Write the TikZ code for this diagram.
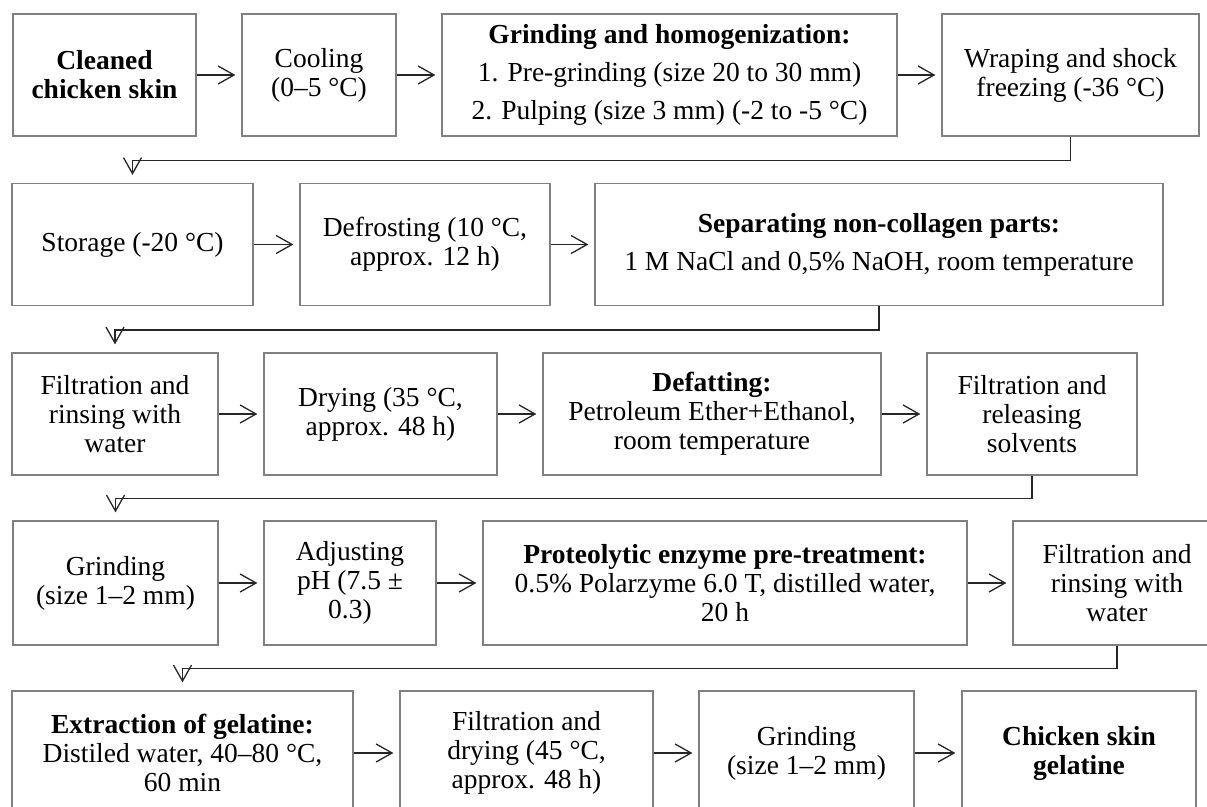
\documentclass[tikz,border=0pt]{standalone}
\usepackage{fontspec}
\setmainfont{Liberation Serif}
\usetikzlibrary{arrows.meta}

\begin{document}
\begin{tikzpicture}[x=0.5pt, y=-0.5pt,
  stage/.style={draw=black!50, line width=0.6pt, inner sep=0pt, align=center,
    font=\fontsize{13.75}{14.5}\selectfont, minimum height=61pt},
  flow/.style={draw=black!85, line width=0.65pt,
    -{Straight Barb[length=8pt, width=9pt]}, shorten >=3pt},
  back/.style={flow, shorten >=4pt}]
  \useasboundingbox (0,0) rectangle (1207,807);
  \clip (0,0) rectangle (1207,807);

  % row 1
  \node[stage, minimum width=91.5pt] (clean) at (104.5,75) {\textbf{Cleaned}\\\textbf{chicken skin}};
  \node[stage, minimum width=77pt] (cool) at (319,75) {Cooling\\(0–5 °C)};
  \node[stage, minimum width=227.5pt] (grind) at (669.5,75)
    {\textbf{Grinding and homogenization:}\\[4.6pt]1. Pre-grinding (size 20 to 30 mm)\\[4.6pt]2. Pulping (size 3 mm) (-2 to -5 °C)};
  \node[stage, minimum width=128.5pt] (wrap) at (1070.5,75) {Wraping and shock\\freezing (-36 °C)};

  % row 2
  \node[stage, minimum width=120.5pt] (store) at (132.5,244.5) {Storage (-20 °C)};
  \node[stage, minimum width=125pt] (defrost) at (425,244.5) {Defrosting (10 °C,\\approx. 12 h)};
  \node[stage, minimum width=284pt] (separ) at (879,244.5)
    {\textbf{Separating non-collagen parts:}\\[4.6pt]1 M NaCl and 0,5\% NaOH, room temperature};

  % row 3
  \node[stage, minimum width=103pt] (rinse) at (115,414) {Filtration and\\rinsing with\\water};
  \node[stage, minimum width=116.5pt] (dry) at (380.5,414) {Drying (35 °C,\\approx. 48 h)};
  \node[stage, minimum width=169pt] (defat) at (712,414)
    {\textbf{Defatting:}\\Petroleum Ether+Ethanol,\\room temperature};
  \node[stage, minimum width=105pt] (release) at (1032,414) {Filtration and\\releasing\\solvents};

  % row 4
  \node[stage, minimum width=102.5pt, minimum height=62pt] (mince) at (115.5,583) {Grinding\\(size 1–2 mm)};
  \node[stage, minimum width=86pt, minimum height=62pt] (ph) at (350,583) {Adjusting\\pH (7.5 ±\\0.3)};
  \node[stage, minimum width=242pt, minimum height=62pt] (enzyme) at (725,583)
    {\textbf{Proteolytic enzyme pre-treatment:}\\0.5\% Polarzyme 6.0 T, distilled water,\\20 h};
  \node[stage, minimum width=104pt, minimum height=62pt] (rinsetwo) at (1117,583) {Filtration and\\rinsing with\\water};

  % row 5 (cut at the bottom)
  \node[stage, minimum width=170.5pt, minimum height=62pt] (extract) at (182.5,753)
    {\textbf{Extraction of gelatine:}\\Distiled water, 40–80 °C,\\60 min};
  \node[stage, minimum width=126.5pt, minimum height=62pt] (filtdry) at (526.5,753)
    {Filtration and\\drying (45 °C,\\approx. 48 h)};
  \node[stage, minimum width=107.5pt, minimum height=62pt] (mincetwo) at (806.5,753) {Grinding\\(size 1–2 mm)};
  \node[stage, minimum width=117pt, minimum height=62pt] (product) at (1079,753)
    {\textbf{Chicken skin}\\\textbf{gelatine}};

  % arrows along the rows
  \draw[flow] (clean) -- (cool);
  \draw[flow] (cool) -- (grind);
  \draw[flow] (grind) -- (wrap);
  \draw[flow] (store) -- (defrost);
  \draw[flow] (defrost) -- (separ);
  \draw[flow] (rinse) -- (dry);
  \draw[flow] (dry) -- (defat);
  \draw[flow] (defat) -- (release);
  \draw[flow] (mince) -- (ph);
  \draw[flow] (ph) -- (enzyme);
  \draw[flow] (enzyme) -- (rinsetwo);
  \draw[flow] (extract) -- (filtdry);
  \draw[flow] (filtdry) -- (mincetwo);
  \draw[flow] (mincetwo) -- (product);

  % return lines to the next row
  \draw[back] (wrap.south) -- ++(0,24) -| (store);
  \draw[back] (separ.south) -- ++(0,24) -| (rinse);
  \draw[back] (release.south) -- ++(0,23) -| (mince);
  \draw[back] (rinsetwo.south) -- ++(0,23) -| (extract);
\end{tikzpicture}
\end{document}
